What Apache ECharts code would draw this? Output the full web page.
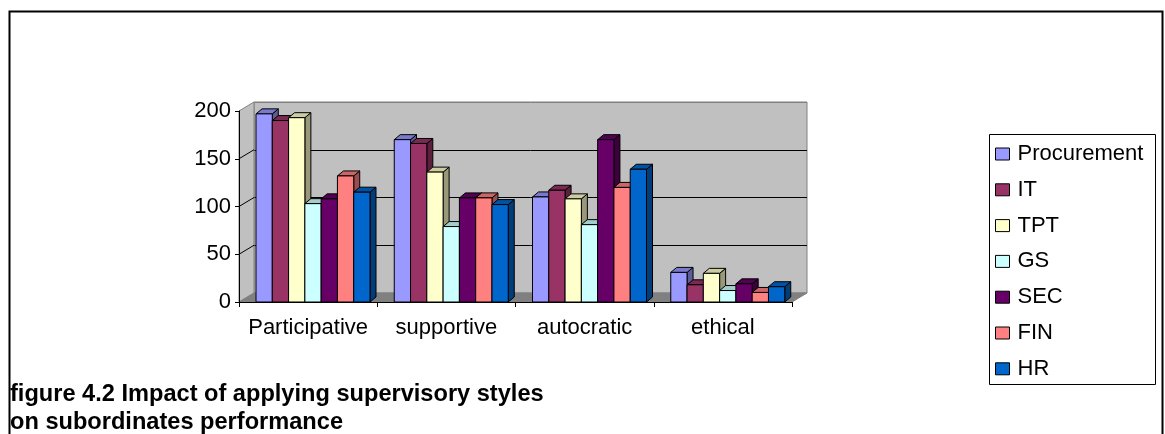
<!DOCTYPE html>
<html><head><meta charset="utf-8">
<script src="https://cdn.jsdelivr.net/npm/echarts@6/dist/echarts.min.js"></script>
<style>html,body{margin:0;padding:0;background:#fff}#c{width:1165px;height:434px}</style>
</head><body><div id="c"></div>
<script>
// ---- data ----
const categories = ['Participative', 'supportive', 'autocratic', 'ethical'];
const departments = ['Procurement', 'IT', 'TPT', 'GS', 'SEC', 'FIN', 'HR'];
const procurement = [197, 170, 110, 31];
const it = [190, 166, 117, 18];
const tpt = [193, 136, 108, 30];
const gs = [103, 79, 81, 12];
const sec = [108, 109, 170, 19];
const fin = [132, 109, 120, 10];
const hr = [115, 102, 139, 16];
const yTicks = [0, 50, 100, 150, 200];
const titleLines = ['figure 4.2 Impact of applying supervisory styles', 'on subordinates performance'];

// ---- style ----
const colors = ['#9999FF', '#993366', '#FFFFCC', '#CCFFFF', '#660066', '#FF8080', '#0066CC'];
const FONT = "'Liberation Sans', Arial, sans-serif";
const WALL = { dx: 15, dy: -9 };
const BAR3D = { dx: 6, dy: -5 };
const BAR_LEFT_FRAC = 0.123;
const BAR_W_FRAC = 0.1178;

function shade(hex, f) {
  const n = parseInt(hex.slice(1), 16);
  const r = Math.round(((n >> 16) & 255) * f), g = Math.round(((n >> 8) & 255) * f), b = Math.round((n & 255) * f);
  return 'rgb(' + r + ',' + g + ',' + b + ')';
}

const seriesValues = [procurement, it, tpt, gs, sec, fin, hr];

function barRender(si) {
  return function (params, api) {
    const ci = api.value(0), v = api.value(1);
    const top = api.coord([ci, v]);
    const base = api.coord([ci, 0]);
    const band = api.size([1, 0])[0];
    const w = band * BAR_W_FRAC;
    const x = top[0] - band / 2 + band * BAR_LEFT_FRAC + si * w;
    const yT = top[1], yB = base[1];
    const col = colors[si];
    const dx = BAR3D.dx, dy = BAR3D.dy;
    return {
      type: 'group', children: [
        { type: 'polygon', shape: { points: [[x + w, yB], [x + w + dx, yB + dy], [x + w + dx, yT + dy], [x + w, yT]] },
          style: { fill: shade(col, 0.6), stroke: '#000', lineWidth: 1 } },
        { type: 'polygon', shape: { points: [[x, yT], [x + dx, yT + dy], [x + w + dx, yT + dy], [x + w, yT]] },
          style: { fill: shade(col, 0.8), stroke: '#000', lineWidth: 1 } },
        { type: 'rect', shape: { x: x, y: yT, width: w, height: yB - yT },
          style: { fill: col, stroke: '#000', lineWidth: 1 } }
      ]
    };
  };
}

function wallRender(params, api) {
  const v = api.value(1);
  const band = api.size([1, 0])[0];
  const x0 = api.coord([0, 0])[0] - band / 2;
  const x1 = api.coord([categories.length - 1, 0])[0] + band / 2;
  const y0 = api.coord([0, 0])[1];
  const yTop = api.coord([0, yTicks[yTicks.length - 1]])[1];
  const yv = api.coord([0, v])[1];
  const children = [];
  if (params.dataIndex === 0) {
    children.push({ type: 'polygon', shape: { points: [[x0, yTop], [x0 + WALL.dx, yTop + WALL.dy], [x0 + WALL.dx, y0 + WALL.dy], [x0, y0]] },
      style: { fill: '#C0C0C0', stroke: '#808080', lineWidth: 1 } });
    children.push({ type: 'polygon', shape: { points: [[x0, y0], [x0 + WALL.dx, y0 + WALL.dy], [x1 + WALL.dx, y0 + WALL.dy], [x1, y0]] },
      style: { fill: '#808080', stroke: '#808080', lineWidth: 1 } });
  }
  if (v > 0 && v < yTicks[yTicks.length - 1]) {
    children.push({ type: 'line', shape: { x1: x0, y1: yv, x2: x0 + WALL.dx, y2: yv + WALL.dy }, style: { stroke: '#000', lineWidth: 1 } });
  }
  return { type: 'group', children: children };
}

const series = [{
  type: 'custom', name: 'walls', xAxisIndex: 0, yAxisIndex: 0, z: 1, silent: true,
  renderItem: wallRender, data: yTicks.map(function (v) { return [0, v]; })
}];
departments.forEach(function (d, i) {
  series.push({
    type: 'custom', name: d, xAxisIndex: 0, yAxisIndex: 0, z: 2 + i * 0.01,
    itemStyle: { color: colors[i] },
    renderItem: barRender(i),
    data: seriesValues[i].map(function (v, ci) { return [ci, v]; })
  });
});

const chart = echarts.init(document.getElementById('c'));
chart.setOption({
  animation: false,
  color: colors,
  textStyle: { fontFamily: FONT, color: '#000' },
  grid: [
    { left: 239, top: 111, width: 553, height: 191 },
    { left: 239 + WALL.dx, top: 111 + WALL.dy, width: 553, height: 191, show: true,
      backgroundColor: '#C0C0C0', borderColor: '#808080', borderWidth: 1 }
  ],
  xAxis: [
    { type: 'category', gridIndex: 0, data: categories, z: 5,
      axisLine: { lineStyle: { color: '#000', width: 1 } },
      axisTick: { show: true, length: 5, lineStyle: { color: '#000' } },
      axisLabel: { fontSize: 22, color: '#000', margin: 15, fontFamily: FONT, interval: 0 } },
    { type: 'category', gridIndex: 1, data: categories, show: false }
  ],
  yAxis: [
    { type: 'value', gridIndex: 0, min: 0, max: 200, interval: 50, z: 5,
      axisLine: { show: true, lineStyle: { color: '#000', width: 1 } },
      axisTick: { show: true, length: 4, lineStyle: { color: '#000' } },
      axisLabel: { fontSize: 22, color: '#000', margin: 8, fontFamily: FONT },
      splitLine: { show: false } },
    { type: 'value', gridIndex: 1, min: 0, max: 200, interval: 50,
      axisLine: { show: false }, axisTick: { show: false }, axisLabel: { show: false },
      splitLine: { show: true, lineStyle: { color: ['#808080', '#000', '#000', '#000', '#808080'], width: 1 } } }
  ],
  legend: {
    data: departments, orient: 'vertical', left: 995, top: 143, padding: 0,
    itemWidth: 14, itemHeight: 12, itemGap: 13.8, icon: 'rect',
    itemStyle: { borderColor: '#000', borderWidth: 1 },
    textStyle: { fontSize: 22, color: '#000', fontFamily: FONT, padding: [0, 0, 0, 3] },
    selectedMode: false
  },
  graphic: [
    { type: 'rect', left: 7, top: 9, z: 10, silent: true,
      shape: { width: 1153, height: 440 }, style: { fill: 'none', stroke: '#000', lineWidth: 2 } },
    { type: 'rect', left: 987, top: 132, z: 10, silent: true,
      shape: { width: 166, height: 250 }, style: { fill: 'none', stroke: '#000', lineWidth: 1 } },
    { type: 'text', left: 10, top: 380, z: 10, silent: true,
      style: { text: titleLines.join('\n'), font: 'bold 23.6px ' + FONT, lineHeight: 28, fill: '#000' } }
  ],
  series: series
});
</script>
</body></html>
